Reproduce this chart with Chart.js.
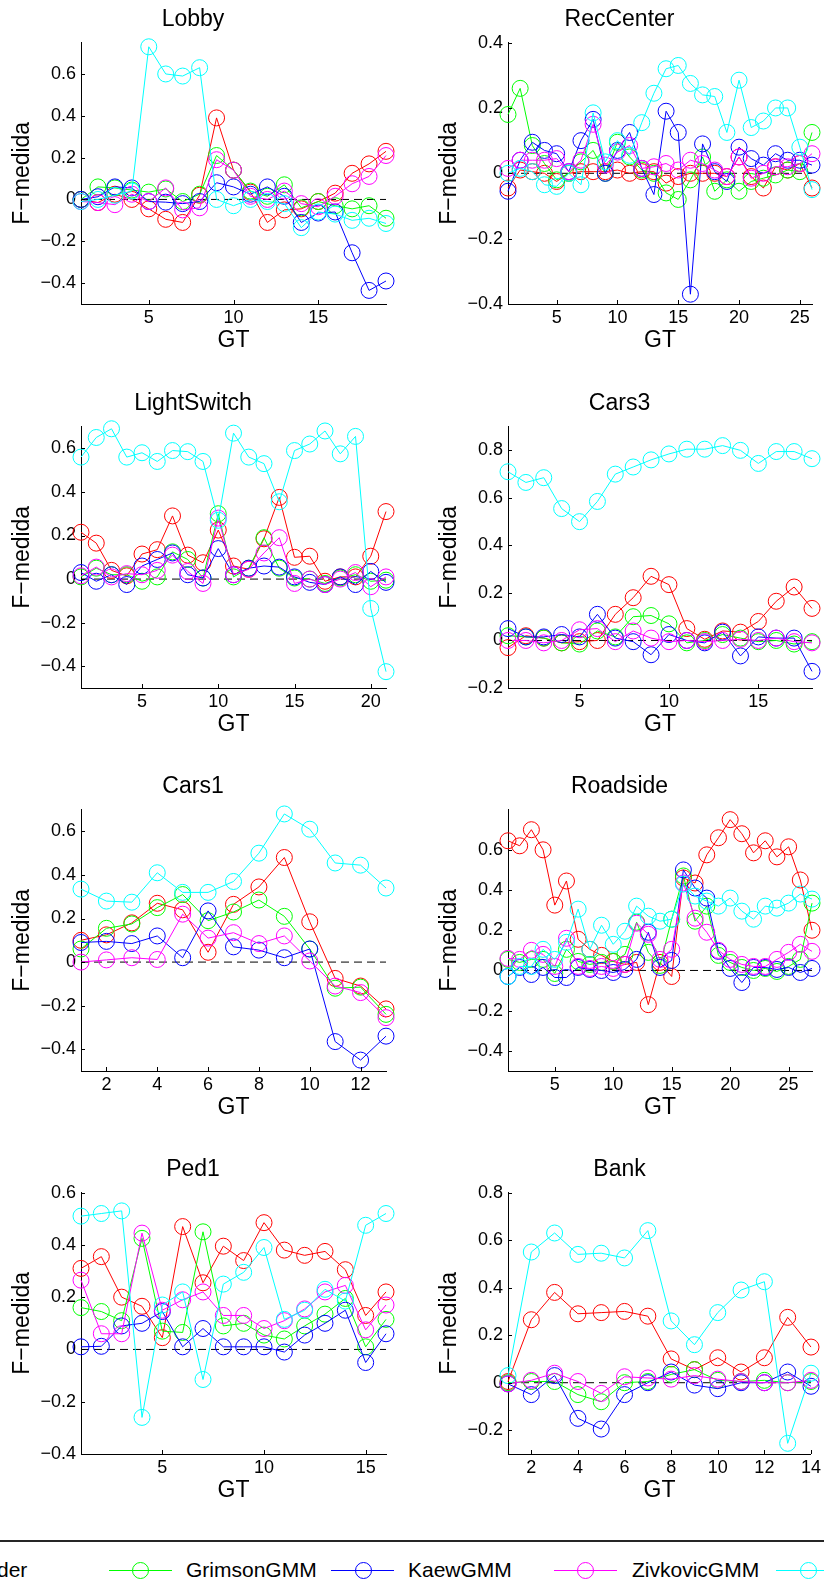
<!DOCTYPE html>
<html>
<head>
<meta charset="utf-8">
<script src="https://cdn.jsdelivr.net/npm/chart.js@4.4.1/dist/chart.umd.min.js"></script>
<style>
  html, body { margin: 0; padding: 0; background: #fff; overflow: hidden; }
  body { width: 824px; height: 1593px; position: relative; font-family: "Liberation Sans", Arial, sans-serif; }
  canvas.panel { position: absolute; }
  #legend { position: absolute; left: 0; top: 1540px; width: 824px; height: 53px; border-top: 2px solid #262626; overflow: hidden; }
  .lg-text { position: absolute; top: 16px; font-size: 21px; line-height: 24px; white-space: nowrap; color: #000; }
  .lg-line { position: absolute; top: 28px; height: 1px; }
  .lg-mark { position: absolute; top: 20px; width: 17px; height: 17px; border: 1px solid; border-radius: 50%; box-sizing: border-box; }
</style>
</head>
<body>
<div id="legend"></div>
<script>
// paineis
var titles = ['Lobby', 'RecCenter', 'LightSwitch', 'Cars3', 'Cars1', 'Roadside', 'Ped1', 'Bank'];
var gtMax = [19, 26, 21, 18, 13, 27, 16, 14];
var yMin = [-0.5, -0.4, -0.5, -0.2, -0.5, -0.5, -0.4, -0.3];
var yMax = [0.75, 0.4, 0.7, 0.9, 0.7, 0.8, 0.6, 0.8];
var yTicks = [
    [-0.4, -0.2, 0, 0.2, 0.4, 0.6],
    [-0.4, -0.2, 0, 0.2, 0.4],
    [-0.4, -0.2, 0, 0.2, 0.4, 0.6],
    [-0.2, 0, 0.2, 0.4, 0.6, 0.8],
    [-0.4, -0.2, 0, 0.2, 0.4, 0.6],
    [-0.4, -0.2, 0, 0.2, 0.4, 0.6],
    [-0.4, -0.2, 0, 0.2, 0.4, 0.6],
    [-0.2, 0, 0.2, 0.4, 0.6, 0.8]
];
var xTicks = [
    [5, 10, 15],
    [5, 10, 15, 20, 25],
    [5, 10, 15, 20],
    [5, 10, 15],
    [2, 4, 6, 8, 10, 12],
    [5, 10, 15, 20, 25],
    [5, 10, 15],
    [2, 4, 6, 8, 10, 12, 14]
];

// series (legenda)
var seriesNames = ['der', 'GrimsonGMM', 'KaewGMM', 'ZivkovicGMM', ''];
var seriesColors = ['#ff0000', '#00ff00', '#0000ff', '#ff00ff', '#00ffff'];

var redVals = [
    [0, -0.015, 0.025, 0.0, -0.045, -0.095, -0.11, 0.02, 0.39, 0.14, 0.035, -0.11, -0.05, -0.045, -0.01, 0.03, 0.125, 0.17, 0.23],
    [-0.045, 0.01, 0.005, 0.0, -0.025, 0.0, 0.005, 0.005, 0.005, 0.01, 0.0, 0.005, 0.005, -0.03, -0.01, 0.0, 0.0, 0.0, -0.01, 0.05, -0.01, -0.045, 0.02, 0.01, 0.03, -0.045],
    [0.215, 0.165, 0.04, 0.015, 0.115, 0.135, 0.29, 0.11, 0.075, 0.225, 0.06, 0.045, 0.185, 0.375, 0.10, 0.105, -0.01, 0.01, 0.01, 0.105, 0.31],
    [-0.03, 0.02, 0.01, -0.01, -0.005, 0.0, 0.11, 0.18, 0.27, 0.235, 0.05, 0.005, 0.04, 0.035, 0.08, 0.165, 0.225, 0.135],
    [0.10, 0.125, 0.18, 0.27, 0.24, 0.045, 0.265, 0.345, 0.48, 0.185, -0.075, -0.11, -0.215],
    [0.645, 0.62, 0.70, 0.60, 0.325, 0.445, 0.155, 0.105, 0.075, 0.045, 0.03, 0.04, -0.17, 0.04, -0.03, 0.46, 0.435, 0.575, 0.66, 0.75, 0.68, 0.585, 0.645, 0.565, 0.615, 0.45, 0.20],
    [0.31, 0.355, 0.20, 0.165, 0.045, 0.47, 0.255, 0.395, 0.34, 0.485, 0.38, 0.36, 0.375, 0.305, 0.13, 0.22],
    [0.005, 0.265, 0.38, 0.29, 0.295, 0.30, 0.28, 0.10, 0.055, 0.105, 0.045, 0.105, 0.275, 0.15]
];
var grimsonVals = [
    [0, 0.06, 0.055, 0.045, 0.035, 0.05, -0.01, 0.025, 0.21, 0.14, 0.04, 0.015, 0.07, -0.04, -0.01, -0.03, -0.045, -0.03, -0.09],
    [0.18, 0.26, 0.085, 0.03, -0.02, 0.0, 0.035, 0.07, 0.0, 0.095, 0.05, 0.01, 0.0, -0.06, -0.08, -0.02, 0.05, -0.055, -0.02, -0.055, -0.025, -0.015, -0.005, 0.01, 0.005, 0.125],
    [0.01, 0.05, 0.02, 0.02, -0.01, 0.01, 0.125, 0.09, 0.005, 0.30, 0.01, 0.05, 0.19, 0.05, 0.005, 0.0, -0.02, 0.005, 0.02, -0.01, -0.005],
    [0.02, 0.015, 0.01, -0.01, -0.015, 0.04, 0.015, 0.10, 0.105, 0.07, -0.01, 0.0, 0.025, 0.01, -0.005, 0.0, -0.015, -0.005],
    [0.06, 0.155, 0.175, 0.25, 0.31, 0.19, 0.23, 0.285, 0.21, 0.06, -0.12, -0.115, -0.24],
    [0.055, 0.04, 0.055, 0.055, -0.015, 0.105, 0.045, 0.03, 0.04, 0.045, 0.08, 0.24, 0.09, 0.025, 0.255, 0.47, 0.245, 0.32, 0.075, 0.04, 0.015, 0.0, 0.01, -0.005, 0.02, 0.055, 0.335],
    [0.16, 0.145, 0.11, 0.425, 0.07, 0.065, 0.45, 0.09, 0.10, 0.055, 0.04, 0.09, 0.135, 0.195, 0.01, 0.115],
    [0.0, 0.005, 0.005, -0.05, -0.08, 0.0, 0.005, 0.035, 0.055, 0.01, 0.005, 0.01, 0.0, 0.005]
];
var kaewVals = [
    [0, 0.013, 0.06, 0.055, -0.01, -0.013, -0.02, -0.01, 0.08, 0.06, 0.025, 0.06, 0.015, -0.11, -0.065, -0.06, -0.255, -0.435, -0.39],
    [-0.055, 0.04, 0.095, 0.07, 0.06, 0.005, 0.10, 0.165, 0.0, 0.07, 0.125, 0.015, -0.065, 0.19, 0.125, -0.37, 0.09, 0.005, -0.025, 0.08, 0.045, 0.025, 0.06, 0.04, 0.04, 0.025],
    [0.03, -0.01, 0.02, -0.025, 0.06, 0.09, 0.12, 0.02, 0.005, 0.14, 0.02, 0.05, 0.06, 0.055, 0.01, -0.015, -0.025, 0.01, -0.025, 0.035, -0.015],
    [0.05, 0.015, 0.015, 0.025, 0.015, 0.11, 0.01, -0.005, -0.06, 0.025, 0.0, -0.01, 0.035, -0.065, 0.015, 0.01, 0.01, -0.13],
    [0.09, 0.095, 0.085, 0.12, 0.02, 0.235, 0.07, 0.055, 0.02, 0.06, -0.365, -0.45, -0.34],
    [-0.03, 0.015, -0.02, 0.015, -0.035, -0.035, 0.015, 0.005, 0.0, -0.01, 0.005, 0.055, 0.19, 0.015, 0.05, 0.50, 0.41, 0.36, 0.095, 0.01, -0.06, 0.015, 0.015, 0.005, 0.015, -0.01, 0.01],
    [0.01, 0.012, 0.09, 0.10, 0.145, 0.01, 0.08, 0.01, 0.01, 0.01, -0.01, 0.055, 0.10, 0.15, -0.05, 0.06],
    [-0.005, -0.05, 0.03, -0.15, -0.195, -0.05, 0.0, 0.045, -0.01, -0.025, 0.0, 0.0, 0.045, -0.015]
];
var zivkovicVals = [
    [-0.01, -0.015, -0.025, 0.025, -0.01, 0.055, -0.05, -0.04, 0.19, 0.14, 0.015, 0.0, 0.04, -0.02, -0.035, 0.015, 0.075, 0.11, 0.21],
    [0.015, 0.04, 0.04, 0.04, 0.045, 0.005, 0.04, 0.15, 0.025, 0.065, 0.085, 0.015, 0.02, 0.03, 0.01, 0.04, 0.03, 0.01, -0.01, 0.05, -0.015, 0.0, 0.02, 0.02, 0.03, 0.06],
    [0.015, 0.055, 0.01, 0.025, 0.02, 0.04, 0.11, 0.035, -0.02, 0.28, 0.02, 0.045, 0.12, 0.19, -0.02, 0.0, -0.025, 0.0, 0.03, -0.035, 0.01],
    [0.0, 0.0, -0.01, 0.0, 0.045, 0.05, -0.005, 0.04, 0.01, -0.005, 0.0, -0.005, 0.0, 0.005, 0.0, 0.01, -0.005, -0.01],
    [0.0, 0.01, 0.02, 0.012, 0.22, 0.11, 0.135, 0.085, 0.12, 0.005, -0.11, -0.14, -0.255],
    [0.06, 0.055, 0.10, 0.08, 0.02, 0.16, 0.02, 0.01, 0.02, 0.01, 0.03, 0.235, 0.18, 0.055, 0.105, 0.435, 0.26, 0.19, 0.10, 0.055, 0.03, 0.02, 0.02, 0.055, 0.09, 0.13, 0.095],
    [0.265, 0.06, 0.06, 0.445, 0.15, 0.19, 0.22, 0.13, 0.13, 0.08, 0.11, 0.155, 0.22, 0.245, 0.075, 0.17],
    [-0.005, 0.01, 0.04, 0.005, -0.045, 0.025, 0.02, 0.015, 0.03, 0.015, 0.005, 0.0, 0.0, 0.01]
];
var cyanVals = [
    [-0.01, 0.0, 0.02, 0.04, 0.73, 0.60, 0.59, 0.63, 0.0, -0.03, 0.0, -0.01, -0.02, -0.135, -0.06, -0.07, -0.10, -0.09, -0.115],
    [0.0, 0.015, 0.005, -0.035, -0.04, 0.0, -0.035, 0.185, 0.035, 0.10, 0.055, 0.155, 0.245, 0.32, 0.33, 0.275, 0.24, 0.235, 0.125, 0.285, 0.14, 0.16, 0.20, 0.20, 0.08, -0.05],
    [0.56, 0.65, 0.69, 0.56, 0.58, 0.54, 0.59, 0.585, 0.54, 0.27, 0.67, 0.56, 0.53, 0.355, 0.59, 0.62, 0.68, 0.575, 0.655, -0.135, -0.425],
    [0.71, 0.665, 0.685, 0.555, 0.50, 0.585, 0.70, 0.73, 0.76, 0.785, 0.805, 0.805, 0.82, 0.80, 0.745, 0.795, 0.795, 0.765],
    [0.335, 0.28, 0.275, 0.41, 0.32, 0.32, 0.37, 0.50, 0.68, 0.61, 0.455, 0.445, 0.34],
    [-0.03, 0.02, 0.02, 0.105, 0.055, 0.14, 0.305, 0.105, 0.225, 0.13, 0.195, 0.32, 0.27, 0.245, 0.255, 0.43, 0.37, 0.345, 0.32, 0.36, 0.295, 0.255, 0.32, 0.31, 0.335, 0.38, 0.355],
    [0.51, 0.52, 0.53, -0.26, 0.17, 0.22, -0.115, 0.25, 0.295, 0.39, 0.115, 0.15, 0.23, 0.185, 0.475, 0.52],
    [0.03, 0.55, 0.63, 0.54, 0.545, 0.525, 0.64, 0.26, 0.16, 0.295, 0.39, 0.425, -0.255, 0.04]
];
var allSeries = [redVals, grimsonVals, kaewVals, zivkovicVals, cyanVals];

Chart.defaults.font.family = '"Liberation Sans", Arial, sans-serif';
Chart.defaults.color = '#000';

// posicao dos paineis na pagina
var colLeft = [0, 427], colWidth = [400, 397], colPadRight = [14, 12];
var rowTop = [0, 384, 767, 1150];
var PANEL_H = 354;

function fmtTick(v) {
    if (Math.abs(v) < 1e-9) return '0';
    return (v < 0 ? '\u2212' : '') + Math.abs(v).toFixed(1);
}

// ticks para dentro, estilo matlab
var inTicks = {
    id: 'inTicks',
    afterDraw: function (chart) {
        var ctx = chart.ctx, a = chart.chartArea;
        var xs = chart.scales.x, ys = chart.scales.y;
        ctx.save();
        ctx.strokeStyle = '#000';
        ctx.lineWidth = 1;
        ctx.beginPath();
        xs.ticks.forEach(function (t) {
            var p = Math.round(xs.getPixelForValue(t.value)) + 0.5;
            ctx.moveTo(p, a.bottom);
            ctx.lineTo(p, a.bottom - 4);
        });
        ys.ticks.forEach(function (t) {
            var p = Math.round(ys.getPixelForValue(t.value)) + 0.5;
            ctx.moveTo(a.left, p);
            ctx.lineTo(a.left + 4, p);
        });
        ctx.stroke();
        ctx.restore();
    }
};

for (var i = 0; i < titles.length; i++) {
    var col = i % 2, row = Math.floor(i / 2);
    var cv = document.createElement('canvas');
    cv.className = 'panel';
    cv.width = colWidth[col];
    cv.height = PANEL_H;
    cv.style.left = colLeft[col] + 'px';
    cv.style.top = rowTop[row] + 'px';
    document.body.appendChild(cv);

    var datasets = allSeries.map(function (vals, k) {
        return {
            label: seriesNames[k],
            data: vals[i].map(function (v, j) { return {x: j + 1, y: v}; }),
            borderColor: seriesColors[k],
            borderWidth: 1,
            pointRadius: 8,
            pointHoverRadius: 8,
            pointBorderWidth: 1,
            pointBorderColor: seriesColors[k],
            pointBackgroundColor: 'rgba(0,0,0,0)',
            tension: 0,
            clip: false,
            order: 4 - k
        };
    });
    // linha tracejada no zero
    datasets.push({
        label: 'zero',
        data: [{x: 1, y: 0}, {x: gtMax[i], y: 0}],
        borderColor: '#000',
        borderWidth: 1,
        borderDash: [8, 5],
        pointRadius: 0,
        clip: false,
        order: 10
    });

    (function (idx) {
        new Chart(cv, {
            type: 'line',
            data: {datasets: datasets},
            options: {
                responsive: false,
                animation: false,
                events: [],
                layout: {padding: {left: 0, top: 0, right: colPadRight[col], bottom: 0}, autoPadding: false},
                plugins: {
                    legend: {display: false},
                    tooltip: {enabled: false},
                    title: {
                        display: true,
                        text: titles[idx],
                        font: {size: 23, weight: 'normal'},
                        color: '#000',
                        padding: {top: 6, bottom: 9}
                    }
                },
                scales: {
                    x: {
                        type: 'linear',
                        min: 1,
                        max: gtMax[idx],
                        afterBuildTicks: function (s) {
                            s.ticks = xTicks[idx].map(function (v) { return {value: v}; });
                        },
                        afterFit: function (s) { s.height = 50; },
                        grid: {display: false, drawTicks: false},
                        border: {display: true, color: '#000', width: 1},
                        ticks: {font: {size: 18}, color: '#000', padding: 3, maxRotation: 0, autoSkip: false},
                        title: {display: true, text: 'GT', font: {size: 23}, color: '#000', padding: 0}
                    },
                    y: {
                        type: 'linear',
                        min: yMin[idx],
                        max: yMax[idx],
                        afterBuildTicks: function (s) {
                            s.ticks = yTicks[idx].map(function (v) { return {value: v}; });
                        },
                        afterFit: function (s) { s.width = 81; },
                        grid: {display: false, drawTicks: false},
                        border: {display: true, color: '#000', width: 1},
                        ticks: {font: {size: 18}, color: '#000', padding: 5, autoSkip: false, callback: fmtTick},
                        title: {display: true, text: 'F\u2212medida', font: {size: 23}, color: '#000', padding: {top: 9, bottom: 0}}
                    }
                }
            },
            plugins: [inTicks]
        });
    })(i);
}

// legenda cortada no rodape
var legendX = [
    {line: -160, mark: -129, text: -3},
    {line: 109, mark: 140, text: 186},
    {line: 331, mark: 363, text: 408},
    {line: 554, mark: 585, text: 632},
    {line: 776, mark: 808, text: 853}
];
var lg = document.getElementById('legend');
var out = '';
for (var k = 0; k < seriesNames.length; k++) {
    var p = legendX[k];
    out += '<div class="lg-line" style="left:' + p.line + 'px;width:63px;background:' + seriesColors[k] + '"></div>';
    out += '<div class="lg-mark" style="left:' + (p.mark - 8) + 'px;border-color:' + seriesColors[k] + '"></div>';
    if (seriesNames[k]) out += '<div class="lg-text" style="left:' + p.text + 'px">' + seriesNames[k] + '</div>';
}
lg.innerHTML = out;
</script>
</body>
</html>
